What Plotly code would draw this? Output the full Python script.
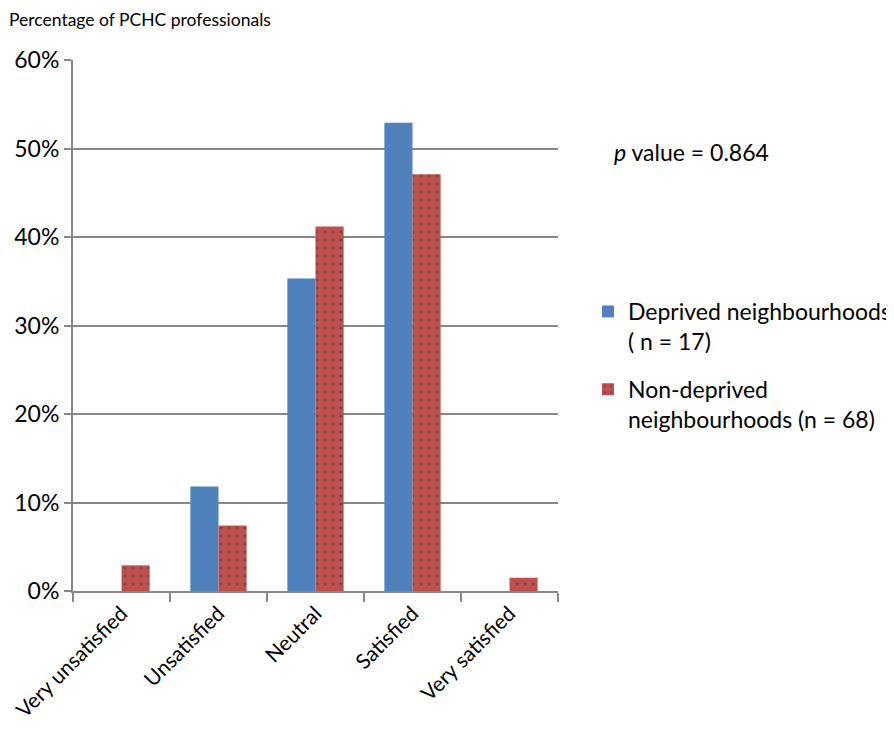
import plotly.graph_objects as go

categories = ["Very unsatisfied", "Unsatisfied", "Neutral", "Satisfied", "Very satisfied"]
deprived = [0.0, 11.8, 35.3, 52.9, 0.0]
non_deprived = [2.9, 7.4, 41.2, 47.1, 1.5]
y_ticks = [0, 10, 20, 30, 40, 50, 60]
y_labels = [f"{v}%" for v in y_ticks]

font = "Lato"
grey = "#878787"

# page has an 8px body margin, so the figure is drawn 8px in from the corner
W, H = 886, 729
L, R, T, B = 65, 550, 52, 583
pw, ph = R - L, B - T

fig = go.Figure()
fig.add_trace(go.Bar(
    x=categories, y=deprived,
    name="Deprived neighbourhoods<br>( n = 17)", legendgroup="dep",
    marker=dict(color="#4F81BD", line=dict(width=0)),
))
fig.add_trace(go.Bar(
    x=categories, y=non_deprived,
    name="Non-deprived<br>neighbourhoods (n = 68)", legendgroup="non",
    marker=dict(color="#C0504D", line=dict(width=0),
                pattern=dict(shape=".", fgcolor="#24483c", bgcolor="#C0504D",
                             size=8, solidity=0.12)),
))

fig.update_layout(
    width=W, height=H,
    margin=dict(l=L, r=W - R, t=T, b=H - B, autoexpand=False),
    paper_bgcolor="white", plot_bgcolor="white",
    font=dict(family=font, size=23, color="black"),
    barmode="group", bargap=0.42, bargroupgap=0,
    showlegend=True,
    legend=dict(x=(580 - L) / pw, y=(B - 282) / ph, xanchor="left", yanchor="top",
                font=dict(size=23), tracegroupgap=15, valign="top",
                bgcolor="rgba(0,0,0,0)"),
    xaxis=dict(showline=True, linecolor=grey, linewidth=2, automargin=False,
               ticks="outside", tickson="boundaries", ticklen=9, tickcolor=grey, tickwidth=2,
               tickangle=-45, tickfont=dict(size=21)),
    yaxis=dict(range=[0, 60], tickvals=y_ticks, ticktext=y_labels, automargin=False,
               showline=True, linecolor=grey, linewidth=2,
               ticks="outside", ticklen=7, tickcolor=grey, tickwidth=2,
               showgrid=True, gridcolor=grey, gridwidth=2, zeroline=False,
               tickfont=dict(size=23)),
    annotations=[
        dict(text="Percentage of PCHC professionals", xref="paper", yref="paper",
             x=-L / pw, y=1 + T / ph, xanchor="left", yanchor="top",
             borderpad=0, showarrow=False, font=dict(size=17.5)),
        dict(text="<i>p</i> value = 0.864", xref="paper", yref="paper",
             x=(604 - L) / pw, y=(B - 144) / ph, xanchor="left", yanchor="middle",
             showarrow=False, font=dict(size=23)),
    ],
)

fig.write_html("out.html")
